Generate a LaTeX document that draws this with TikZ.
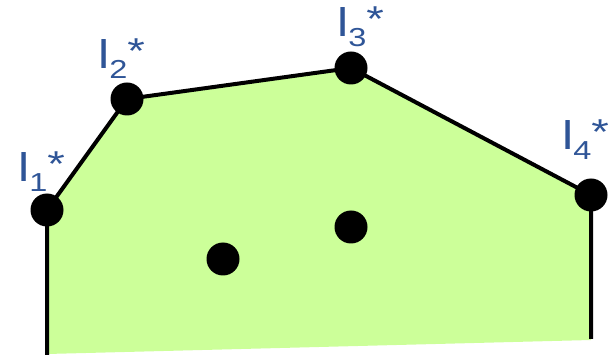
\documentclass[tikz,border=0pt]{standalone}
\usepackage{fontspec}
\setmainfont{Liberation Sans}
\definecolor{fillgreen}{RGB}{204,255,153}
\definecolor{lblblue}{RGB}{47,85,151}
\newcommand{\lbl}[1]{\scalebox{1.25}[1]{\fontsize{40}{40}\selectfont l\raisebox{-10pt}{\fontsize{26}{26}\selectfont #1}\raisebox{5pt}{\fontsize{36}{36}\selectfont *}}}
\begin{document}
\begin{tikzpicture}[x=1pt,y=-1pt,
  dotnode/.style={circle,fill=black,inner sep=0pt,minimum size=33pt},
  edge/.style={line width=4pt,black},
  lbltext/.style={text=lblblue,inner sep=0pt,anchor=base west}]
\useasboundingbox (0,0) rectangle (616,355);
\coordinate (b1) at (47,355);
\coordinate (b4) at (591,339);
\coordinate (p1) at (47,210);
\coordinate (p2) at (127,99);
\coordinate (p3) at (351,68);
\coordinate (p4) at (591,195);
\fill[fillgreen] (47,354) -- (p1) -- (p2) -- (p3) -- (p4) -- (591,340) -- cycle;
\draw[edge] (b1) -- (p1) -- (p2) -- (p3) -- (p4) -- (b4);
\node[dotnode] (d1) at (p1) {};
\node[dotnode] (d2) at (p2) {};
\node[dotnode] (d3) at (p3) {};
\node[dotnode] (d4) at (p4) {};
\node[dotnode] (i1) at (223,259) {};
\node[dotnode] (i2) at (351,227) {};
\node[lbltext] (l1) at (18,182) {\lbl{1}};
\node[lbltext] (l2) at (98,69) {\lbl{2}};
\node[lbltext] (l3) at (337,37) {\lbl{3}};
\node[lbltext] (l4) at (562,150) {\lbl{4}};
\end{tikzpicture}
\end{document}
